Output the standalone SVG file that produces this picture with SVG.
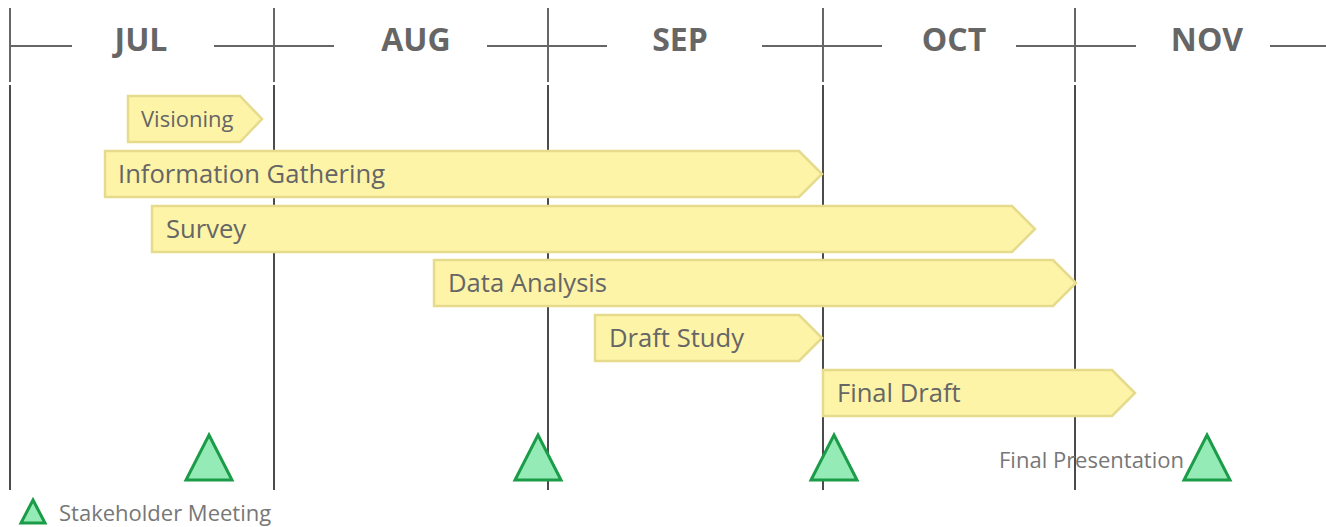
<svg xmlns="http://www.w3.org/2000/svg" width="1326" height="527" viewBox="0 0 1326 527">
<style>
.hdr{stroke:#666;stroke-width:2;fill:none}
.vl{stroke:#111;stroke-width:1.5}
.month{font-family:"Open Sans","DejaVu Sans",sans-serif;font-weight:bold;font-size:32px;fill:#666;text-anchor:middle}
.bar{fill:#fdf4a8;stroke:#e6da8c;stroke-width:2.5}
.bt{font-family:"Open Sans","DejaVu Sans",sans-serif;font-size:25.6px;fill:#666}
.bs{font-size:22px}
.ms{fill:#95ebb6;stroke:#1b9c48;stroke-width:3;stroke-linejoin:miter}
.lt{font-family:"Open Sans","DejaVu Sans",sans-serif;font-size:22px;fill:#777}
</style>
<rect width="1326" height="527" fill="#fff"/>
<g id="header">
<path class="hdr" d="M10 8V82M274 8V82M548 8V82M823 8V82M1075 8V82"/>
<path class="hdr" d="M10 46H72M214 46H334M487 46H607M762 46H882M1016 46H1136M1270 46H1326"/>
<text class="month" x="141" y="51">JUL</text>
<text class="month" x="416" y="51">AUG</text>
<text class="month" x="680" y="51">SEP</text>
<text class="month" x="954" y="51">OCT</text>
<text class="month" x="1207" y="51">NOV</text>
</g>
<g id="gridlines">
<path class="vl" d="M10 85V490M274 85V490M548 85V490M823 85V490M1075 85V490"/>
</g>
<g id="visioning">
<path class="bar" d="M128 96H240L262 119L240 142H128Z"/>
<text class="bt bs" x="141" y="127">Visioning</text>
</g>
<g id="information-gathering">
<path class="bar" d="M105 151H799L822 174L799 197H105Z"/>
<text class="bt" x="118" y="183">Information Gathering</text>
</g>
<g id="survey">
<path class="bar" d="M152 206H1012L1035 229L1012 252H152Z"/>
<text class="bt" x="166" y="238">Survey</text>
</g>
<g id="data-analysis">
<path class="bar" d="M434 260H1053L1076 283L1053 306H434Z"/>
<text class="bt" x="448" y="292">Data Analysis</text>
</g>
<g id="draft-study">
<path class="bar" d="M595 315H799L822 338L799 361H595Z"/>
<text class="bt" x="609" y="347">Draft Study</text>
</g>
<g id="final-draft">
<path class="bar" d="M823 370H1112L1135 393L1112 416H823Z"/>
<text class="bt" x="837" y="402">Final Draft</text>
</g>
<g id="milestones">
<path class="ms" d="M209 435L232 480H186Z"/>
<path class="ms" d="M538 435L561 480H515Z"/>
<path class="ms" d="M834 435L857 480H811Z"/>
<path class="ms" d="M1207 435L1230 480H1184Z"/>
<text class="lt" x="999" y="468">Final Presentation</text>
</g>
<g id="legend">
<path class="ms" d="M33 500L45 523H21Z"/>
<text class="lt" x="59" y="521">Stakeholder Meeting</text>
</g>
</svg>
